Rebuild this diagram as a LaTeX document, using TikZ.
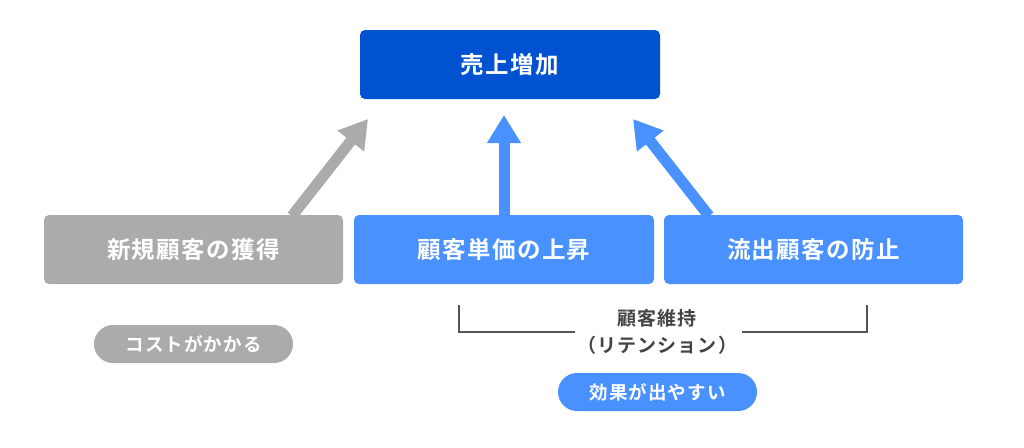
\documentclass[tikz,border=0pt]{standalone}
\usepackage{fontspec}
\setmainfont{Noto Sans CJK JP}
\newfontfamily\jpb[LetterSpace=6]{Noto Sans CJK JP Bold}
\newfontfamily\jpm[LetterSpace=6]{Noto Sans CJK JP Bold}
\usetikzlibrary{arrows.meta}
\definecolor{dblue}{HTML}{0052D1}
\definecolor{lblue}{HTML}{4891FF}
\definecolor{gbox}{HTML}{ABABAB}
\definecolor{dtext}{HTML}{444444}
\definecolor{brk}{HTML}{555555}
\tikzset{
  box/.style={rounded corners=5pt, minimum width=300pt, minimum height=69pt, inner sep=0pt, text=white, font=\jpb\fontsize{23.5}{26}\selectfont},
  pill/.style={rounded corners=19pt, minimum width=199pt, minimum height=38pt, inner sep=0pt, text=white, font=\jpm\fontsize{18.5}{20}\selectfont},
  arr/.style={line width=11pt, -{Triangle[length=28pt,width=32pt]}},
}
\begin{document}
\begin{tikzpicture}[x=1pt,y=-1pt]
\useasboundingbox (0,0) rectangle (1024,447);
\node[box, fill=dblue] (top) at (510,64.5) {売上増加};
\node[box, fill=gbox, minimum width=299pt] (g) at (193.5,249.5) {新規顧客の獲得};
\node[box, fill=lblue] (b1) at (504,249.5) {顧客単価の上昇};
\node[box, fill=lblue, minimum width=299pt] (b2) at (813.5,249.5) {流出顧客の防止};
\coordinate (gt) at (368,119);
\coordinate (gs) at (292,216);
\coordinate (mt) at (504,115);
\coordinate (rt) at (633,119);
\coordinate (rs) at (709,216);
\draw[arr, gbox] (gs) -- (gt);
\draw[arr, lblue] (b1.north) -- (mt);
\draw[arr, lblue] (rs) -- (rt);
\node[pill, fill=gbox] (cost) at (193.5,344) {コストがかかる};
\coordinate (bl) at (459,305);
\coordinate (br) at (867,305);
\node[text=dtext, font=\jpm\fontsize{19}{21}\selectfont, align=center, inner sep=0pt] (ret) at (657,332) {顧客維持\\[6pt]（リテンション）};
\draw[brk, line width=1.3pt] (bl) |- (575,332);
\draw[brk, line width=1.3pt] (br) |- (742,332);
\node[pill, fill=lblue] (eff) at (657.5,392) {効果が出やすい};
\end{tikzpicture}
\end{document}
